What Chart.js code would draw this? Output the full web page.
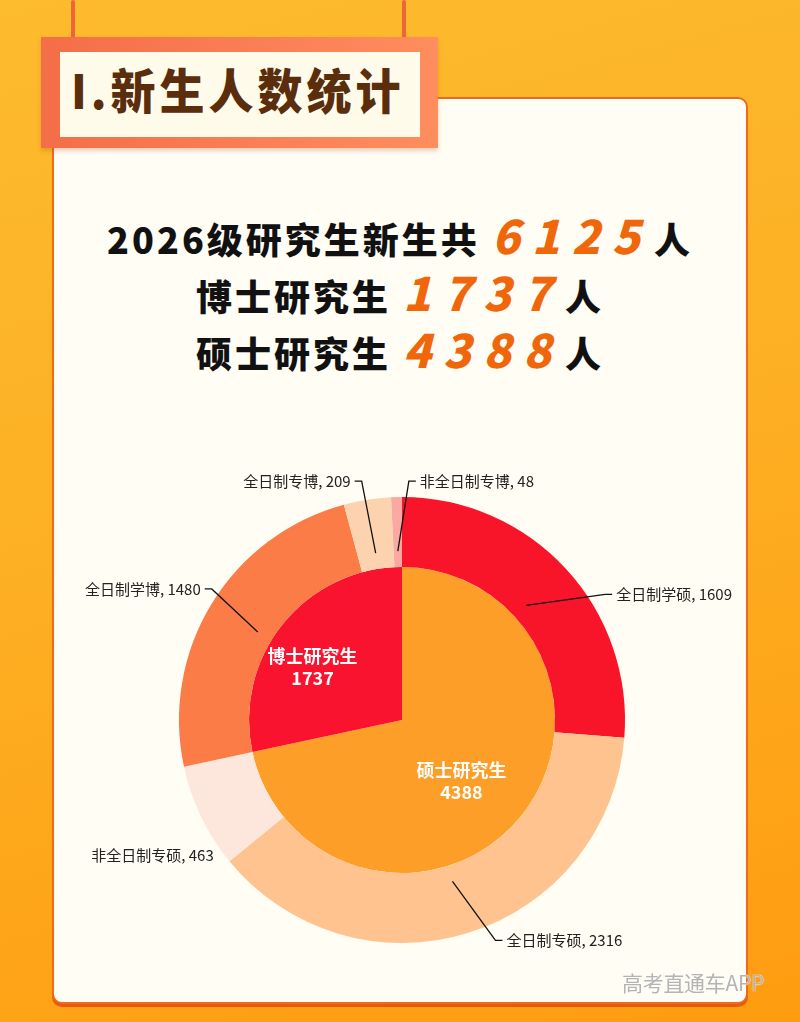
<!DOCTYPE html>
<html>
<head>
<meta charset="utf-8">
<script src="https://cdn.jsdelivr.net/npm/chart.js@4.4.0/dist/chart.umd.min.js"></script>
<style>
  html, body { margin: 0; padding: 0; }
  body {
    width: 800px; height: 1022px; position: relative; overflow: hidden;
    background: linear-gradient(165deg, #FDBB2E 0%, #FDB024 45%, #FF9C10 100%);
    font-family: "Noto Sans CJK SC", "Noto Sans", sans-serif;
  }
  .string { position: absolute; top: 0; width: 4px; height: 40px; background: #F0643C; border-radius: 2px; }
  .card {
    position: absolute; left: 52px; top: 97px; width: 692px; height: 903px;
    background: #FFFDF4; border: 2px solid #F06A1C; border-radius: 10px;
    box-shadow: 0 3px 0 #E8580E;
  }
  .tab {
    position: absolute; left: 41px; top: 37px; width: 397px; height: 111px;
    background: linear-gradient(90deg, #F46E48, #FF8D5E);
    box-shadow: 0 3px 4px rgba(180, 70, 20, 0.25);
  }
  .tab .inner {
    position: absolute; left: 19px; top: 15px; width: 360px; height: 85px;
    background: #FEFBEA;
  }
  .tab .title {
    position: absolute; left: 30px; top: 22px; line-height: 60px;
    font-size: 45px; font-weight: 900; color: #5A2D0C; letter-spacing: 4px;
    white-space: nowrap; transform: scaleY(1.05);
  }
  .line {
    position: absolute; left: 0; width: 800px; text-align: center;
    font-size: 36px; font-weight: 900; color: #111; letter-spacing: 3px; white-space: nowrap;
  }
  .line .num { font-size: 46px; color: #F0660A; font-style: italic; letter-spacing: 12px; margin: 0 2px 0 12px; }
  #wrap { position: absolute; left: 52px; top: 440px; width: 700px; height: 540px; }
  .wm {
    position: absolute; left: 622px; top: 967px; font-size: 21px; color: #B4B4B4;
    text-shadow: 0 0 1px #fff, 0 0 1px #fff;
    font-family: "Noto Sans CJK SC", sans-serif; letter-spacing: -0.3px;
  }
</style>
</head>
<body>
<div class="string" style="left:71px"></div>
<div class="string" style="left:402px"></div>
<div class="card"></div>
<div class="tab"><div class="inner"></div></div>
<div class="tab" style="background:none;box-shadow:none"><div class="title">I.新生人数统计</div></div>

<div class="line" style="top:201px">2026级研究生新生共<span class="num">6125</span>人</div>
<div class="line" style="top:258px">博士研究生<span class="num">1737</span>人</div>
<div class="line" style="top:315px">硕士研究生<span class="num">4388</span>人</div>

<div id="wrap"><canvas id="canvas" width="700" height="540"></canvas></div>
<div class="wm">高考直通车APP</div>

<script>
// outer ring: sub-types, clockwise from top
const subLabels = ['全日制学硕', '全日制专硕', '非全日制专硕', '全日制学博', '全日制专博', '非全日制专博'];
const subValues = [1609, 2316, 463, 1480, 209, 48];
const subColors = ['#F81429', '#FEC38F', '#FDE6DB', '#FB7C46', '#FDD3AF', '#F9A9A2'];

// inner pie: degree level
const levelLabels = ['硕士研究生', '博士研究生'];
const levelValues = [4388, 1737];
const levelColors = ['#FD9E28', '#FA132E'];

// leader line layout (dx, dy from line start) for outer labels
const leaderOffsets = [[79, -11], [43, 59], [-25, 62], [-46, -43], [-14, -72], [11, -70]];
const leaderVisible = [true, true, false, true, true, true];
// inner label nudges
const innerOffsets = [[0, 13], [-30, -5]];

const labelPlugin = {
  id: 'pieLabels',
  afterDatasetsDraw(chart) {
    const c = chart.ctx;
    c.save();
    // outer labels
    const outer = chart.getDatasetMeta(0);
    outer.data.forEach((arc, i) => {
      const p = arc.getProps(['x', 'y', 'startAngle', 'endAngle', 'innerRadius', 'outerRadius'], true);
      const mid = (p.startAngle + p.endAngle) / 2;
      const r = p.innerRadius + 16;
      const sx = p.x + Math.cos(mid) * r;
      const sy = p.y + Math.sin(mid) * r;
      const ex = sx + leaderOffsets[i][0];
      const ey = sy + leaderOffsets[i][1];
      const dir = leaderOffsets[i][0] >= 0 ? 1 : -1;
      const hx = ex + dir * 7;
      if (leaderVisible[i]) {
        c.strokeStyle = '#111';
        c.lineWidth = 1.3;
        c.beginPath();
        c.moveTo(sx, sy);
        c.lineTo(ex, ey);
        c.lineTo(hx, ey);
        c.stroke();
      }
      c.fillStyle = '#222';
      c.font = '15px "Noto Sans CJK SC", sans-serif';
      c.textBaseline = 'middle';
      c.textAlign = dir > 0 ? 'left' : 'right';
      c.fillText(subLabels[i] + ', ' + subValues[i], hx + dir * 4, ey);
    });
    // inner labels
    const inner = chart.getDatasetMeta(1);
    inner.data.forEach((arc, i) => {
      const pt = arc.getCenterPoint(true);
      const x = pt.x + innerOffsets[i][0];
      const y = pt.y + innerOffsets[i][1];
      c.fillStyle = '#fff';
      c.font = 'bold 18px "Noto Sans CJK SC", sans-serif';
      c.textAlign = 'center';
      c.textBaseline = 'middle';
      c.fillText(levelLabels[i], x, y - 11);
      c.fillText(String(levelValues[i]), x, y + 11);
    });
    c.restore();
  }
};

const ctx = document.getElementById('canvas').getContext('2d');
const myChart = new Chart(ctx, {
  type: 'doughnut',
  data: {
    labels: subLabels,
    datasets: [{
      data: subValues,
      backgroundColor: subColors,
      borderWidth: 0,
      weight: 70
    }, {
      data: levelValues,
      backgroundColor: levelColors,
      borderWidth: 0,
      weight: 153
    }]
  },
  options: {
    responsive: false,
    animation: false,
    cutout: 0,
    layout: { padding: { top: 57, bottom: 37, left: 127, right: 127 } },
    plugins: {
      legend: { display: false },
      tooltip: { enabled: false }
    }
  },
  plugins: [labelPlugin]
});
</script>
</body>
</html>
